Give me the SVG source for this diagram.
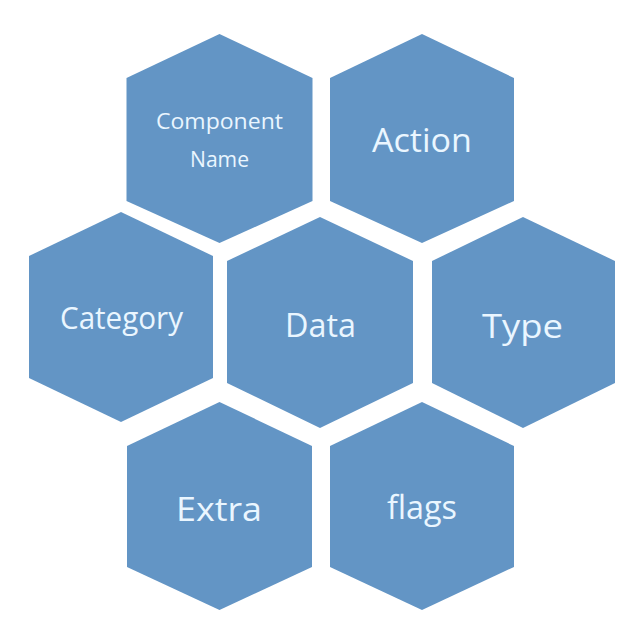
<svg xmlns="http://www.w3.org/2000/svg" width="638" height="634" viewBox="0 0 638 634">
<style>
.hex{fill:#6395C5;}
.t{fill:#EAF6FF;font-family:"Open Sans","Liberation Sans",sans-serif;text-anchor:middle;font-size:33px;}
.s{font-size:22px;}
</style>
<rect width="638" height="634" fill="#ffffff"/>
<g id="node-component">
<polygon class="hex" points="219.5,34 312.5,78 312.5,201 219.5,243 126.5,201 126.5,78"/>
<text class="t s" x="219.5" y="129" textLength="127" lengthAdjust="spacingAndGlyphs">Component</text>
<text class="t s" x="219.5" y="167" textLength="59" lengthAdjust="spacingAndGlyphs">Name</text>
</g>
<g id="node-action">
<polygon class="hex" points="422,34 514,78 514,201 422,243 330,201 330,78"/>
<text class="t" x="422" y="152" textLength="100" lengthAdjust="spacingAndGlyphs">Action</text>
</g>
<g id="node-category">
<polygon class="hex" points="121,212 213,256 213,378 121,422 29,378 29,256"/>
<text class="t" x="121.5" y="329" style="font-size:31px" textLength="123" lengthAdjust="spacingAndGlyphs">Category</text>
</g>
<g id="node-data">
<polygon class="hex" points="320,217 413,261 413,383 320,428 227,383 227,261"/>
<text class="t" x="320.5" y="337" textLength="71" lengthAdjust="spacingAndGlyphs">Data</text>
</g>
<g id="node-type">
<polygon class="hex" points="523,217 615,261 615,383 523,428 432,383 432,261"/>
<text class="t" x="522.5" y="338" textLength="81" lengthAdjust="spacingAndGlyphs">Type</text>
</g>
<g id="node-extra">
<polygon class="hex" points="219.5,402 312,446 312,567 219.5,610 127,567 127,446"/>
<text class="t" x="219" y="521" textLength="86" lengthAdjust="spacingAndGlyphs">Extra</text>
</g>
<g id="node-flags">
<polygon class="hex" points="422,402 514,446 514,567 422,610 330,567 330,446"/>
<text class="t" x="422" y="519" textLength="70" lengthAdjust="spacingAndGlyphs">flags</text>
</g>
<g id="connectors"></g>
</svg>
